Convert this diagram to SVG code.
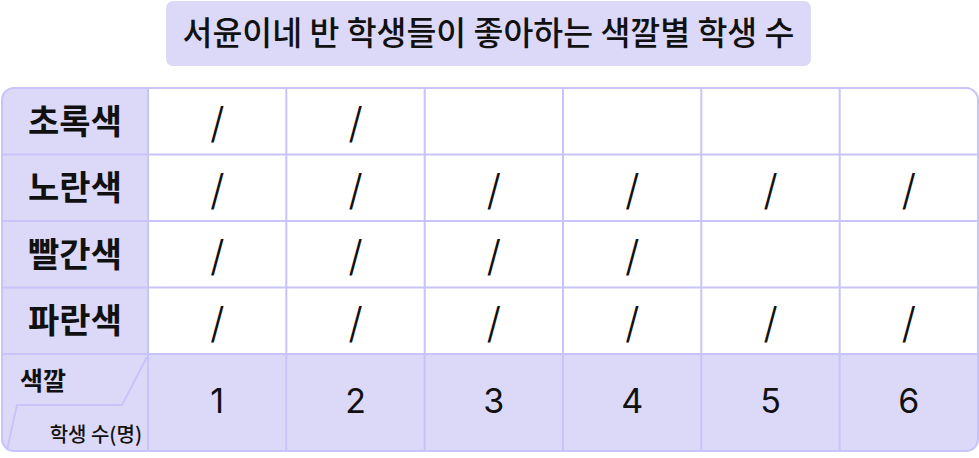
<svg xmlns="http://www.w3.org/2000/svg" width="979" height="458" viewBox="0 0 979 458">
<defs>
<style>
.hdr{fill:#dcd9f8}
.ln{stroke:#c8c4fa;stroke-width:2;fill:none}
.lbl{font-family:"Noto Sans CJK KR","Noto Sans",sans-serif;font-weight:700;font-size:34px;fill:#111;text-anchor:middle}
.num{font-family:"Inter","Noto Sans",sans-serif;font-size:34px;fill:#111;text-anchor:middle}
.tl{font-family:"Inter","Liberation Sans",sans-serif;font-weight:300;font-size:42px;fill:#111;text-anchor:middle}
.ttl{font-family:"Noto Sans CJK KR",sans-serif;font-size:32.5px;font-weight:500;fill:#111;text-anchor:middle}
.sm{font-family:"Noto Sans CJK KR",sans-serif;fill:#111}
</style>
<clipPath id="tbl"><rect x="2" y="88" width="976" height="363" rx="12"/></clipPath>
</defs>
<g id="title">
<rect x="166" y="1" width="645" height="65" rx="7" class="hdr"/>
<text x="488.5" y="45" class="ttl">서윤이네 반 학생들이 좋아하는 색깔별 학생 수</text>
</g>
<g id="table-bg" clip-path="url(#tbl)">
<rect x="2" y="88" width="976" height="363" fill="#fff"/>
<rect x="2" y="88" width="146" height="363" class="hdr"/>
<rect x="2" y="354" width="976" height="97" class="hdr"/>
</g>
<g id="grid">
<path class="ln" d="M148 88V451M286.3 88V451M424.7 88V451M563 88V451M701.3 88V451M839.7 88V451M2 154.5H978M2 221H978M2 287.5H978M2 354H978"/>
<rect x="2" y="88" width="976" height="363" rx="12" class="ln"/>
<polyline class="ln" points="147,357 122,405 17,405 7,450"/>
</g>
<g id="row-green">
<text x="75" y="133.5" class="lbl">초록색</text>
<text x="217.2" y="138" class="tl">/</text>
<text x="355.5" y="138" class="tl">/</text>
</g>
<g id="row-yellow">
<text x="75" y="200" class="lbl">노란색</text>
<text x="217.2" y="204.5" class="tl">/</text>
<text x="355.5" y="204.5" class="tl">/</text>
<text x="493.8" y="204.5" class="tl">/</text>
<text x="632.2" y="204.5" class="tl">/</text>
<text x="770.5" y="204.5" class="tl">/</text>
<text x="908.8" y="204.5" class="tl">/</text>
</g>
<g id="row-red">
<text x="75" y="266.5" class="lbl">빨간색</text>
<text x="217.2" y="271" class="tl">/</text>
<text x="355.5" y="271" class="tl">/</text>
<text x="493.8" y="271" class="tl">/</text>
<text x="632.2" y="271" class="tl">/</text>
</g>
<g id="row-blue">
<text x="75" y="333" class="lbl">파란색</text>
<text x="217.2" y="337.5" class="tl">/</text>
<text x="355.5" y="337.5" class="tl">/</text>
<text x="493.8" y="337.5" class="tl">/</text>
<text x="632.2" y="337.5" class="tl">/</text>
<text x="770.5" y="337.5" class="tl">/</text>
<text x="908.8" y="337.5" class="tl">/</text>
</g>
<g id="header-corner">
<text x="20" y="390" class="sm" font-size="25" font-weight="700">색깔</text>
<text x="142" y="442" class="sm" font-size="20" font-weight="500" text-anchor="end">학생 수(명)</text>
</g>
<g id="numbers">
<text x="217.2" y="413" class="num">1</text>
<text x="355.5" y="413" class="num">2</text>
<text x="493.8" y="413" class="num">3</text>
<text x="632.2" y="413" class="num">4</text>
<text x="770.5" y="413" class="num">5</text>
<text x="908.8" y="413" class="num">6</text>
</g>
<g id="connectors"/>
</svg>
